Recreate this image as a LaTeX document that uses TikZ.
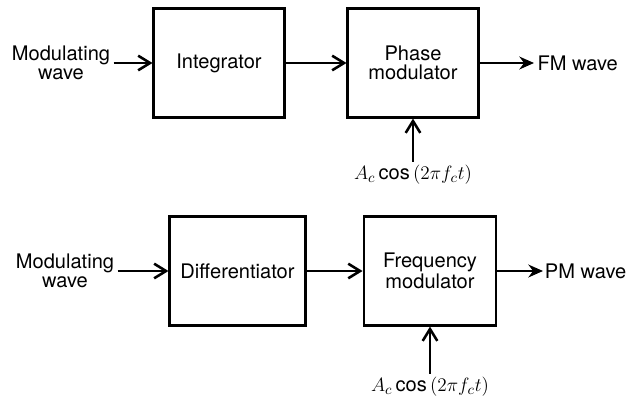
\documentclass[tikz,border=0pt]{standalone}
\usepackage{fontspec}
\setmainfont{TeX Gyre Heros}
\usetikzlibrary{arrows.meta,positioning}

\begin{document}
\begin{tikzpicture}[
    x=0.0219cm, y=-0.0219cm,
    box/.style={draw,line width=1.8pt,minimum width=2.85cm,minimum height=2.37cm,align=center,
      font=\fontsize{12.5}{11.8}\selectfont},
    lbl/.style={align=center,inner sep=2pt,font=\fontsize{12.5}{11.8}\selectfont},
    arr/.style={-{Straight Barb[length=2.6mm,width=3.2mm,line width=1.6pt]},line width=1.8pt},
    outarr/.style={-{Stealth[length=3.2mm,width=2.8mm]},line width=1.8pt}
  ]
    \useasboundingbox (0,0) rectangle (631,398);
    % FM by a phase modulator
    \node[lbl] (modin1) at (61,63) {Modulating\\wave};
    \node[box] (integ) at (219,63) {Integrator};
    \node[box] (phasemod) at (413,63) {Phase\\modulator};
    \node[lbl,anchor=west] (fmout) at (534,63) {FM wave};
    \node[lbl] (carrier1) at (413,175) {$A_c \cos\,(2\pi f_c t)$};
    \draw[arr] (modin1) -- (integ);
    \draw[arr] (integ) -- (phasemod);
    \draw[outarr] (phasemod) -- (fmout);
    \draw[arr] (carrier1) -- (phasemod);
    % PM by a frequency modulator
    \node[lbl] (modin2) at (65,271) {Modulating\\wave};
    \node[box,minimum width=2.96cm] (diff) at (237.5,271) {Differentiator};
    \node[box,minimum width=2.89cm] (freqmod) at (430,271) {Frequency\\modulator};
    \node[lbl,anchor=west,inner sep=1pt] (pmout) at (543,271) {PM wave};
    \node[lbl] (carrier2) at (430,387) {$A_c \cos\,(2\pi f_c t)$};
    \draw[arr] (modin2) -- (diff);
    \draw[arr] (diff) -- (freqmod);
    \draw[outarr] (freqmod) -- (pmout);
    \draw[arr] (carrier2) -- (freqmod);
\end{tikzpicture}
\end{document}
